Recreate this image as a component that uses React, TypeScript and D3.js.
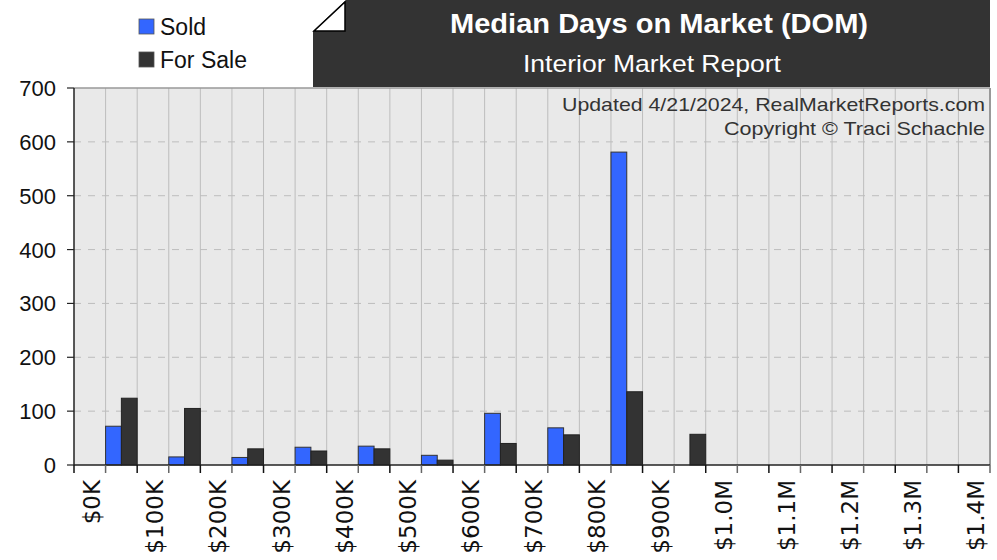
import React, { useEffect, useRef } from "react";
import * as d3 from "d3";

// price buckets in $K; each group sits in the 50K slot ending at its price
const groupPrices = [100, 200, 300, 400, 500, 600, 700, 800, 900, 1000, 1100, 1200, 1300, 1400];
const soldDays = [72, 15, 14, 33, 35, 18, 96, 69, 581, 0, 0, 0, 0, 0];
const forSaleDays = [124, 105, 30, 26, 30, 9, 40, 56, 136, 57, 0, 0, 0, 0];

const tickLabels = [
  "$0K", "$100K", "$200K", "$300K", "$400K", "$500K", "$600K", "$700K",
  "$800K", "$900K", "$1.0M", "$1.1M", "$1.2M", "$1.3M", "$1.4M",
];
const yTicks = [0, 100, 200, 300, 400, 500, 600, 700];

const SOLD = "#3366ff";
const FOR_SALE = "#333333";
const SANS = "'Liberation Sans', Arial, sans-serif";

const App: React.FC = () => {
  const svgRef = useRef<SVGSVGElement>(null);

  useEffect(() => {
    if (!svgRef.current) return;
    const width = 997;
    const height = 560;
    const left = 74;
    const right = 990;
    const top = 88;
    const bottom = 465;

    const svg = d3.select(svgRef.current);
    svg.selectAll("*").remove();
    svg.attr("width", width).attr("height", height);

    const x = d3.scaleLinear().domain([0, 1450]).range([left, right]);
    const y = d3.scaleLinear().domain([0, 700]).range([bottom, top]);

    // header box with folded corner
    svg
      .append("rect")
      .attr("x", 313)
      .attr("y", 0)
      .attr("width", right - 313)
      .attr("height", 87)
      .attr("fill", "#333333");
    svg
      .append("polygon")
      .attr("points", "312,0 346,0 312,32")
      .attr("fill", "white");
    svg
      .append("polygon")
      .attr("points", "314,31 345,2 345,31")
      .attr("fill", "white")
      .attr("stroke", "black")
      .attr("stroke-width", 1.5);

    svg
      .append("text")
      .attr("x", 659)
      .attr("y", 33)
      .attr("text-anchor", "middle")
      .attr("textLength", 418)
      .attr("lengthAdjust", "spacingAndGlyphs")
      .style("font-family", SANS)
      .style("font-weight", "bold")
      .style("font-size", "27px")
      .attr("fill", "white")
      .text("Median Days on Market (DOM)");

    svg
      .append("text")
      .attr("x", 652)
      .attr("y", 72)
      .attr("text-anchor", "middle")
      .attr("textLength", 258)
      .attr("lengthAdjust", "spacingAndGlyphs")
      .style("font-family", SANS)
      .style("font-size", "24px")
      .attr("fill", "white")
      .text("Interior Market Report");

    // legend
    const legend = [
      { label: "Sold", color: SOLD, y: 19 },
      { label: "For Sale", color: FOR_SALE, y: 52 },
    ];
    legend.forEach((d) => {
      svg
        .append("rect")
        .attr("x", 139)
        .attr("y", d.y)
        .attr("width", 15)
        .attr("height", 15)
        .attr("fill", d.color)
        .attr("stroke", "#555")
        .attr("stroke-width", 0.8);
      svg
        .append("text")
        .attr("x", 160)
        .attr("y", d.y + 16)
        .style("font-family", SANS)
        .style("font-size", "23px")
        .attr("fill", "#111")
        .text(d.label);
    });

    // plot background
    svg
      .append("rect")
      .attr("x", left)
      .attr("y", top)
      .attr("width", right - left)
      .attr("height", bottom - top)
      .attr("fill", "#e9e9e9");

    const xTicks = d3.range(0, 1451, 50);

    svg
      .append("g")
      .selectAll("line")
      .data(xTicks.slice(1))
      .enter()
      .append("line")
      .attr("x1", (d) => x(d))
      .attr("x2", (d) => x(d))
      .attr("y1", top)
      .attr("y2", bottom)
      .attr("stroke", "#bdbdbd")
      .attr("stroke-width", 1);

    svg
      .append("g")
      .selectAll("line")
      .data(yTicks.slice(1, -1))
      .enter()
      .append("line")
      .attr("x1", left)
      .attr("x2", right)
      .attr("y1", (d) => y(d))
      .attr("y2", (d) => y(d))
      .attr("stroke", "#bdbdbd")
      .attr("stroke-dasharray", "7,7");

    // copyright lines
    svg
      .append("text")
      .attr("x", 985)
      .attr("y", 111)
      .attr("text-anchor", "end")
      .attr("textLength", 423)
      .attr("lengthAdjust", "spacingAndGlyphs")
      .style("font-family", SANS)
      .style("font-size", "19px")
      .attr("fill", "#333")
      .text("Updated 4/21/2024, RealMarketReports.com");
    svg
      .append("text")
      .attr("x", 985)
      .attr("y", 135)
      .attr("text-anchor", "end")
      .attr("textLength", 261)
      .attr("lengthAdjust", "spacingAndGlyphs")
      .style("font-family", SANS)
      .style("font-size", "19px")
      .attr("fill", "#333")
      .text("Copyright © Traci Schachle");

    // bars
    const bars = svg.append("g");
    groupPrices.forEach((p, i) => {
      const series = [
        { v: soldDays[i], x0: p - 50, x1: p - 25, fill: SOLD, stroke: "#333" },
        { v: forSaleDays[i], x0: p - 25, x1: p, fill: FOR_SALE, stroke: "#222" },
      ];
      series
        .filter((s) => s.v > 0)
        .forEach((s) => {
          bars
            .append("rect")
            .attr("x", x(s.x0))
            .attr("y", y(s.v))
            .attr("width", x(s.x1) - x(s.x0))
            .attr("height", y(0) - y(s.v))
            .attr("fill", s.fill)
            .attr("stroke", s.stroke)
            .attr("stroke-width", 1);
        });
    });

    // frame
    svg
      .append("line")
      .attr("x1", left)
      .attr("x2", right)
      .attr("y1", top)
      .attr("y2", top)
      .attr("stroke", "#999")
      .attr("stroke-width", 1.5);
    svg
      .append("line")
      .attr("x1", right)
      .attr("x2", right)
      .attr("y1", top)
      .attr("y2", bottom)
      .attr("stroke", "#999")
      .attr("stroke-width", 2);

    // y axis
    svg
      .append("line")
      .attr("x1", left)
      .attr("x2", left)
      .attr("y1", top)
      .attr("y2", bottom)
      .attr("stroke", "#222")
      .attr("stroke-width", 1.5);
    const yAxis = svg.append("g");
    yTicks.forEach((t) => {
      yAxis
        .append("line")
        .attr("x1", left - 7)
        .attr("x2", left)
        .attr("y1", y(t))
        .attr("y2", y(t))
        .attr("stroke", "#222")
        .attr("stroke-width", 1.2);
      yAxis
        .append("text")
        .attr("x", 56)
        .attr("y", y(t) + 8)
        .attr("text-anchor", "end")
        .style("font-family", SANS)
        .style("font-size", "22px")
        .attr("fill", "#111")
        .text(t);
    });

    // x axis
    svg
      .append("line")
      .attr("x1", left)
      .attr("x2", right)
      .attr("y1", bottom)
      .attr("y2", bottom)
      .attr("stroke", "#222")
      .attr("stroke-width", 1.5);
    const xAxis = svg.append("g");
    xTicks.forEach((t) => {
      xAxis
        .append("line")
        .attr("x1", x(t))
        .attr("x2", x(t))
        .attr("y1", bottom)
        .attr("y2", bottom + 8)
        .attr("stroke", t % 100 === 0 ? "#111" : "#666")
        .attr("stroke-width", 1.5);
    });
    tickLabels.forEach((label, i) => {
      xAxis
        .append("text")
        .attr("transform", `translate(${x(i * 100) + 26},480) rotate(-90)`)
        .attr("text-anchor", "end")
        .style("font-family", "'DejaVu Sans', sans-serif")
        .style("font-size", "23px")
        .attr("fill", "#111")
        .text(label);
    });
  }, []);

  return (
    <svg
      ref={svgRef}
      style={{ position: "absolute", left: 0, top: 0, background: "white" }}
    ></svg>
  );
};

export default App;
